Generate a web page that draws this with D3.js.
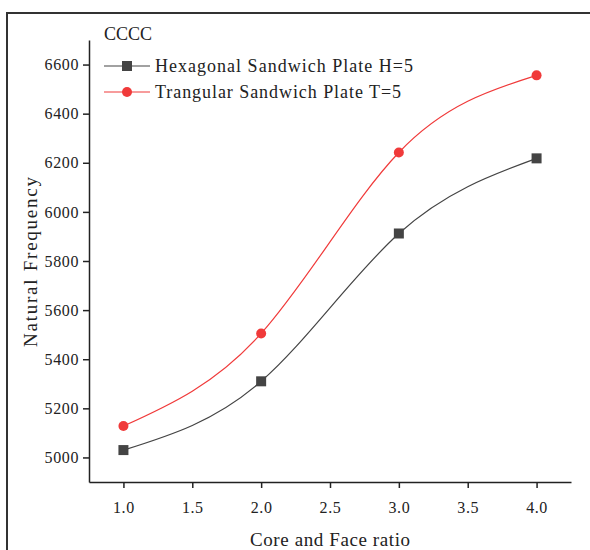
<!DOCTYPE html>
<html>
<head>
<meta charset="utf-8">
<script src="https://cdn.jsdelivr.net/npm/d3@7"></script>
<style>
  body { margin: 0; background: #fff; }
  text { font-family: "Liberation Serif", "Times New Roman", serif; fill: #222; }
</style>
</head>
<body>
<svg id="chart" width="590" height="550"></svg>
<script>
// data
const ratios = [1.0, 2.0, 3.0, 4.0];
const hexagonal = [5030, 5310, 5912, 6218];
const triangular = [5128, 5505, 6242, 6556];
const xTicks = [1.0, 1.5, 2.0, 2.5, 3.0, 3.5, 4.0];
const yTicks = [5000, 5200, 5400, 5600, 5800, 6000, 6200, 6400, 6600];
const seriesNames = ["Hexagonal Sandwich Plate H=5", "Trangular Sandwich Plate T=5"];

const svg = d3.select("#chart");

// outer frame
svg.append("rect")
  .attr("x", 7).attr("y", 13)
  .attr("width", 600).attr("height", 560)
  .attr("fill", "none")
  .attr("stroke", "#333")
  .attr("stroke-width", 2);

const x = d3.scaleLinear().domain([0.75, 4.25]).range([89, 571]);
const y = d3.scaleLinear().domain([4900, 6700]).range([482, 40]);

// minor ticks
const gx = svg.append("g").attr("transform", "translate(0,482)");
gx.call(d3.axisBottom(x).tickValues(d3.range(0.75, 4.26, 0.25)).tickSize(5).tickFormat(""))
  .call(g => g.select(".domain").remove());
gx.call(d3.axisBottom(x).tickValues(xTicks).tickSize(6).tickSizeOuter(0).tickPadding(14).tickFormat(d3.format(".1f")));

const gy = svg.append("g").attr("transform", "translate(89,0)");
gy.call(d3.axisLeft(y).tickValues(d3.range(4900, 6701, 100)).tickSize(5).tickFormat(""))
  .call(g => g.select(".domain").remove());
gy.call(d3.axisLeft(y).tickValues(yTicks).tickSize(6).tickSizeOuter(0).tickPadding(4).tickFormat(d3.format("d")));

svg.selectAll(".domain, .tick line").attr("stroke", "#222").attr("stroke-width", 1.5);
svg.selectAll(".tick text")
  .style("font-family", "Liberation Serif, serif")
  .style("font-size", "16px")
  .style("letter-spacing", "0.6px")
  .attr("fill", "#222");

// axis titles
svg.append("text")
  .attr("x", 330).attr("y", 546)
  .attr("text-anchor", "middle")
  .attr("textLength", 160)
  .style("font-size", "19px")
  .text("Core and Face ratio");

svg.append("text")
  .attr("transform", "translate(37,262) rotate(-90)")
  .attr("text-anchor", "middle")
  .attr("textLength", 170)
  .style("font-size", "19px")
  .text("Natural Frequency");

// series
const line = d3.line()
  .x((d, i) => x(ratios[i]))
  .y(d => y(d))
  .curve(d3.curveNatural);

svg.append("path").datum(hexagonal)
  .attr("d", line).attr("fill", "none")
  .attr("stroke", "#444").attr("stroke-width", 1.2);

svg.append("path").datum(triangular)
  .attr("d", line).attr("fill", "none")
  .attr("stroke", "#f03a3a").attr("stroke-width", 1.2);

svg.selectAll("rect.hex").data(hexagonal).enter()
  .append("rect").attr("class", "hex")
  .attr("x", (d, i) => x(ratios[i]) - 5)
  .attr("y", d => y(d) - 5)
  .attr("width", 10).attr("height", 10)
  .attr("fill", "#444");

svg.selectAll("circle.tri").data(triangular).enter()
  .append("circle").attr("class", "tri")
  .attr("cx", (d, i) => x(ratios[i]))
  .attr("cy", d => y(d))
  .attr("r", 5)
  .attr("fill", "#f03a3a");

// legend
svg.append("text")
  .attr("x", 104).attr("y", 40)
  .style("font-size", "18px")
  .text("CCCC");

const legend = svg.append("g");
const rows = [{ name: seriesNames[0], color: "#444", shape: "square" },
              { name: seriesNames[1], color: "#f03a3a", shape: "circle" }];
rows.forEach((r, i) => {
  const ly = 66 + i * 26;
  legend.append("line")
    .attr("x1", 104).attr("x2", 150).attr("y1", ly).attr("y2", ly)
    .attr("stroke", r.color).attr("stroke-width", 1.2);
  if (r.shape === "square") {
    legend.append("rect").attr("x", 122).attr("y", ly - 5)
      .attr("width", 10).attr("height", 10).attr("fill", r.color);
  } else {
    legend.append("circle").attr("cx", 127).attr("cy", ly).attr("r", 5).attr("fill", r.color);
  }
  legend.append("text")
    .attr("x", 155).attr("y", ly + 6)
    .style("font-size", "18px")
    .attr("textLength", i === 0 ? 258 : 246)
    .text(r.name);
});
</script>
</body>
</html>
